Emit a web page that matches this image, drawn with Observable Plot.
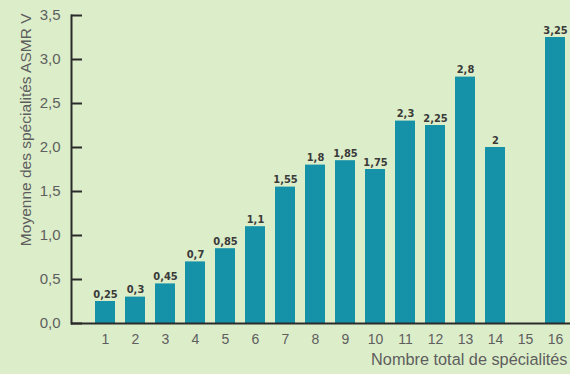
<!DOCTYPE html>
<html>
<head>
<meta charset="utf-8">
<script src="https://cdn.jsdelivr.net/npm/d3@7"></script>
<script src="https://cdn.jsdelivr.net/npm/@observablehq/plot@0.6"></script>
<style>
  html, body { margin: 0; padding: 0; background: #dcedc9; overflow: hidden; }
  #chart svg { background: #dcedc9; display: block; font-family: "Liberation Sans", Arial, Helvetica, sans-serif; }
  #chart svg text { font-family: "Liberation Sans", Arial, Helvetica, sans-serif; }
  #chart svg g.vlabels text { font-family: "Liberation Sans Narrow", "DejaVu Sans Condensed", "Liberation Sans", sans-serif; }
</style>
</head>
<body>
<div id="chart"></div>
<script>
const categories = ["1","2","3","4","5","6","7","8","9","10","11","12","13","14","15","16"];
const values = [0.25, 0.3, 0.45, 0.7, 0.85, 1.1, 1.55, 1.8, 1.85, 1.75, 2.3, 2.25, 2.8, 2, null, 3.25];
const valueLabels = ["0,25","0,3","0,45","0,7","0,85","1,1","1,55","1,8","1,85","1,75","2,3","2,25","2,8","2","","3,25"];
const yTicks = [0, 0.5, 1, 1.5, 2, 2.5, 3, 3.5];
const yTickLabels = ["0,0","0,5","1,0","1,5","2,0","2,5","3,0","3,5"];
const yTitle = "Moyenne des spécialités ASMR V";
const xTitle = "Nombre total de spécialités";

const data = categories.map((c, i) => ({cat: c, v: values[i], label: valueLabels[i]})).filter(d => d.v != null);

const axisColor = "#2b2b2b";
const textColor = "#5e5e5e";
const barColor = "#1592a8";

const chart = Plot.plot({
  width: 570,
  height: 374,
  marginLeft: 71,
  marginRight: 0,
  marginTop: 15,
  marginBottom: 51,
  style: {background: "#dcedc9"},
  x: {type: "band", domain: categories, range: [71, 590], paddingInner: 0.33, paddingOuter: 0.68},
  y: {domain: [0, 3.5]},
  marks: [
    Plot.barY(data, {x: "cat", y: "v", fill: barColor}),
    Plot.text(data, {x: "cat", y: "v", text: "label", lineAnchor: "bottom", dy: -4,
      fontSize: 11, fontWeight: "bold", fill: "#3a3a3a", className: "vlabels"}),
    Plot.ruleY([0], {stroke: axisColor, strokeWidth: 2}),
    Plot.frame({anchor: "left", stroke: axisColor, strokeWidth: 2}),
    Plot.axisY({ticks: yTicks, tickFormat: (d) => yTickLabels[yTicks.indexOf(d)], tickSize: 0, tickPadding: 11,
      fontSize: 15, fill: textColor, label: null}),
    Plot.axisY({ticks: yTicks, tickSize: 11, dx: 11, text: null, stroke: axisColor, strokeWidth: 2, label: null}),
    Plot.axisX({tickSize: 0, tickPadding: 11, fontSize: 14, fill: textColor, label: null}),
    Plot.text([yTitle], {frameAnchor: "top-left", rotate: -90, textAnchor: "end", dx: -52, dy: -2,
      fontSize: 15.5, fill: textColor}),
    Plot.text([xTitle], {frameAnchor: "bottom-right", textAnchor: "end", dx: -3, dy: 41,
      fontSize: 16.3, fill: textColor})
  ]
});
document.getElementById("chart").append(chart);
</script>
</body>
</html>
